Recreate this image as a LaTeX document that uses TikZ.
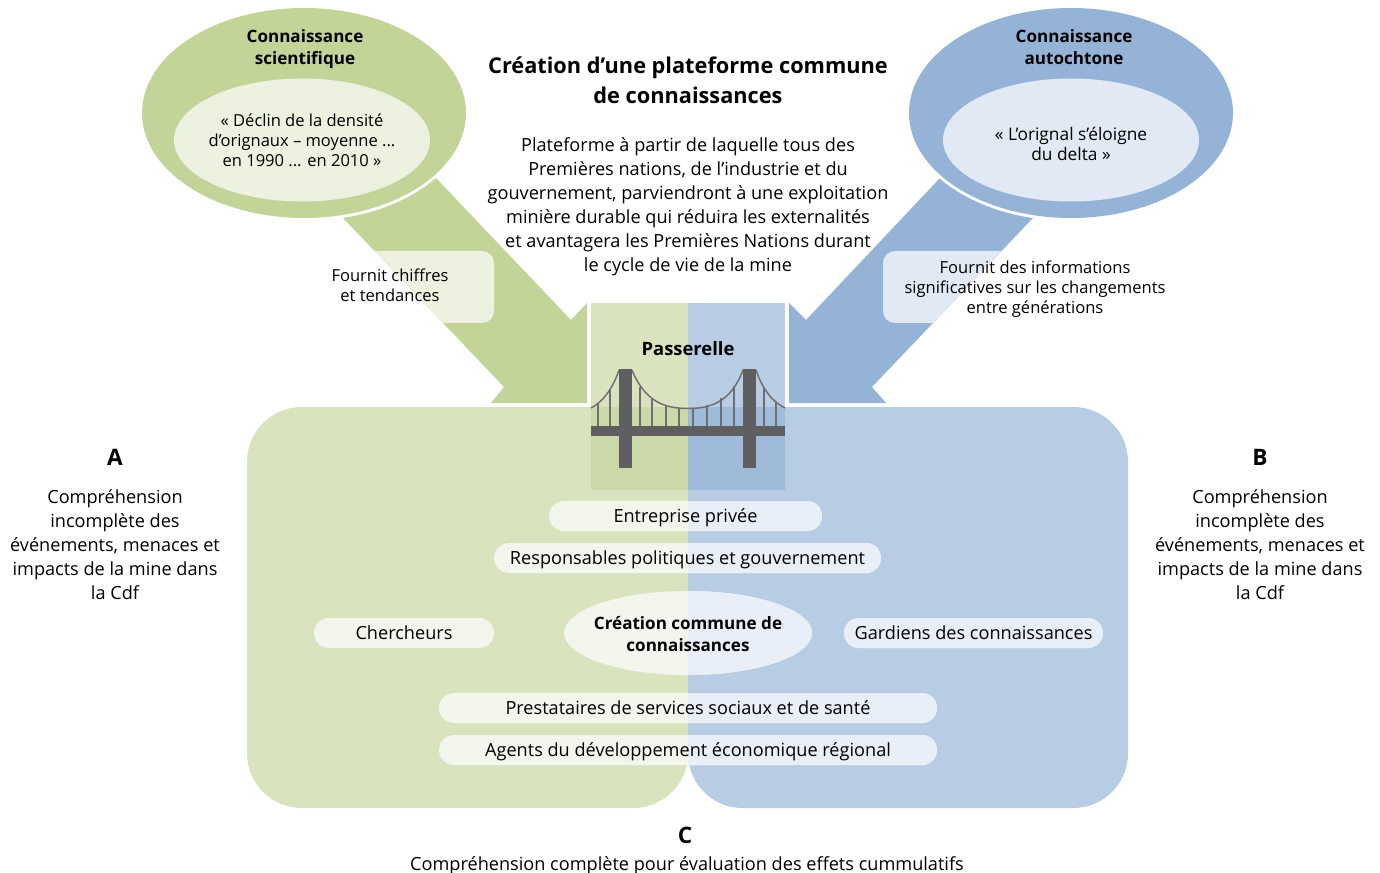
\documentclass[tikz,border=0pt]{standalone}
\usepackage{fontspec}
\setmainfont{Open Sans}
\usetikzlibrary{shapes.geometric}
\definecolor{garrow}{HTML}{C2D498}
\definecolor{gpale}{HTML}{ECF1E0}
\definecolor{gback}{HTML}{D9E4BF}
\definecolor{gdark}{HTML}{CBD9A8}
\definecolor{gpill}{HTML}{F2F6EC}
\definecolor{barrow}{HTML}{95B3D7}
\definecolor{bpale}{HTML}{E1E9F4}
\definecolor{bback}{HTML}{B8CCE4}
\definecolor{bdark}{HTML}{A0BADA}
\definecolor{bpill}{HTML}{E9EFF8}
\definecolor{iron}{HTML}{5F5F61}
\begin{document}
\begin{tikzpicture}[x=.75pt,y=-.75pt,
	ell/.style 2 args={ellipse, inner sep=0pt, minimum width=#1*.75pt, minimum height=#2*.75pt},
	t/.style={align=center, inner sep=0pt, font=\fontsize{13.6}{18}\selectfont},
	h/.style={t, font=\fontsize{12.8}{16.5}\selectfont\bfseries},
	s/.style={t, font=\fontsize{12.4}{15}\selectfont},
	split/.style={path picture={\fill[bpill] (splitTop) rectangle (splitEnd);}},
	pill/.style={fill=gpill, split, rounded corners=11.25pt, minimum width=#1*.75pt, minimum height=22.5pt, inner sep=0pt, text height=11.5pt, text depth=1.5pt, font=\fontsize{13.6}{16}\selectfont}]
	\useasboundingbox (0,0) rectangle (1380,873);
	\coordinate (splitTop) at (688,0);
	\coordinate (splitEnd) at (1400,900);
	% arrows
	\fill[garrow] (436,178) -- (571,320) -- (587,303) -- (587,403) -- (491,403) -- (504,387) -- (343,218) -- cycle;
	\fill[barrow] (940,178) -- (806,320) -- (789,303) -- (789,403) -- (886,403) -- (872,387) -- (1033,218) -- cycle;
	\begin{scope}
		\clip (436,178) -- (571,320) -- (587,303) -- (587,403) -- (491,403) -- (504,387) -- (343,218) -- cycle;
		\fill[gpale, rounded corners=9pt] (300,251) rectangle (494,323);
	\end{scope}
	\begin{scope}
		\clip (940,178) -- (806,320) -- (789,303) -- (789,403) -- (886,403) -- (872,387) -- (1033,218) -- cycle;
		\fill[bpale, rounded corners=9pt] (883,251) rectangle (1080,323);
	\end{scope}
	% ellipses
	\node[ell={330}{216}, fill=white] (sciRing) at (304,113) {};
	\node[ell={324}{210}, fill=garrow] (sciOut) at (304,113) {};
	\node[ell={256}{123}, fill=gpale] (sciIn) at (302,140) {};
	\node[s] (sciTxt) at (302,140) {« Déclin de la densité\\d’orignaux – moyenne ...\\en 1990 ... en 2010 »};
	\node[h] (sciName) at (305,49) {Connaissance\\scientifique};
	\node[ell={330}{216}, fill=white] (autRing) at (1071,113) {};
	\node[ell={324}{210}, fill=barrow] (autOut) at (1071,113) {};
	\node[ell={256}{123}, fill=bpale] (autIn) at (1071,140) {};
	\node[s, font=\fontsize{13}{15}\selectfont] (autTxt) at (1071,144) {« L’orignal s’éloigne\\du delta »};
	\node[h] (autName) at (1074,47) {Connaissance\\autochtone};
	% background
	\fill[gback] (688,407) [rounded corners=41pt] -- (247,407) -- (247,808) -- (688,808) -- (688,600) [sharp corners] -- cycle;
	\fill[bback] (688,407) [rounded corners=41pt] -- (1128,407) -- (1128,808) -- (688,808) -- (688,600) [sharp corners] -- cycle;
	\fill[gback] (591,303) rectangle (688,407);
	\fill[bback] (688,303) rectangle (785,407);
	\fill[gdark] (591,407) rectangle (688,490);
	\fill[bdark] (688,407) rectangle (785,490);
	% bridge
	\draw[iron!90, line width=1.1pt] (591,408) .. controls (603,402) and (613,388) .. (619,370);
	\draw[iron!90, line width=1.1pt] (632,370) .. controls (645,402) and (665,408.5) .. (688,408.5) .. controls (711,408.5) and (731,402) .. (743,370);
	\draw[iron!90, line width=1.1pt] (756,370) .. controls (762,388) and (772,402) .. (785,408);
	\foreach \hx/\hy in {598/403,610/390,640/387,652/399,666/405,679/408,693/408,707/405,721/398,734/386,764/388,776/402}
		\draw[iron!90, line width=1.1pt] (\hx,\hy) -- (\hx,426);
	\fill[iron] (591,426) rectangle (785,436);
	\fill[iron] (619,369) rectangle (632,468);
	\fill[iron] (743,369) rectangle (756,468);
	\node[h, font=\fontsize{13.8}{16.5}\selectfont\bfseries] (bridgeName) at (688,349) {Passerelle};
	% pills
	\node[pill=273] (priv) at (685.5,516) {Entreprise privée};
	\node[pill=387] (polit) at (687.5,558) {Responsables politiques et gouvernement};
	\node[pill=180] (cherch) at (404,633) {Chercheurs};
	\node[pill=259] (gard) at (973.5,633) {Gardiens des connaissances};
	\node[ell={248}{84}, fill=gpill, split] (creat) at (688,633) {};
	\node[h] (creatTxt) at (688,634) {Création commune de\\connaissances};
	\node[pill=498] (prest) at (688,708) {Prestataires de services sociaux et de santé};
	\node[pill=498] (agent) at (688,750) {Agents du développement économique régional};
	% texts
	\node[t, font=\fontsize{16.3}{22.5}\selectfont\bfseries] (title) at (688,80) {Création d’une plateforme commune\\de connaissances};
	\node[t] (intro) at (688,207) {Plateforme à partir de laquelle tous des\\Premières nations, de l’industrie et du\\gouvernement, parviendront à une exploitation\\minière durable qui réduira les externalités\\et avantagera les Premières Nations durant\\le cycle de vie de la mine};
	\node[s] (chiffres) at (390,285) {Fournit chiffres\\et tendances};
	\node[s] (infos) at (1035,289) {Fournit des informations\\significatives sur les changements\\entre générations};
	\node[t, font=\fontsize{17}{20}\selectfont\bfseries] (lblA) at (115,457) {A};
	\node[t] (txtA) at (115,545) {Compréhension\\incomplète des\\événements, menaces et\\impacts de la mine dans\\la Cdf};
	\node[t, font=\fontsize{17}{20}\selectfont\bfseries] (lblB) at (1260,457) {B};
	\node[t] (txtB) at (1260,545) {Compréhension\\incomplète des\\événements, menaces et\\impacts de la mine dans\\la Cdf};
	\node[t, font=\fontsize{17}{20}\selectfont\bfseries] (lblC) at (685,835) {C};
	\node[t] (txtC) at (687,866) {Compréhension complète pour évaluation des effets cummulatifs};
\end{tikzpicture}
\end{document}
